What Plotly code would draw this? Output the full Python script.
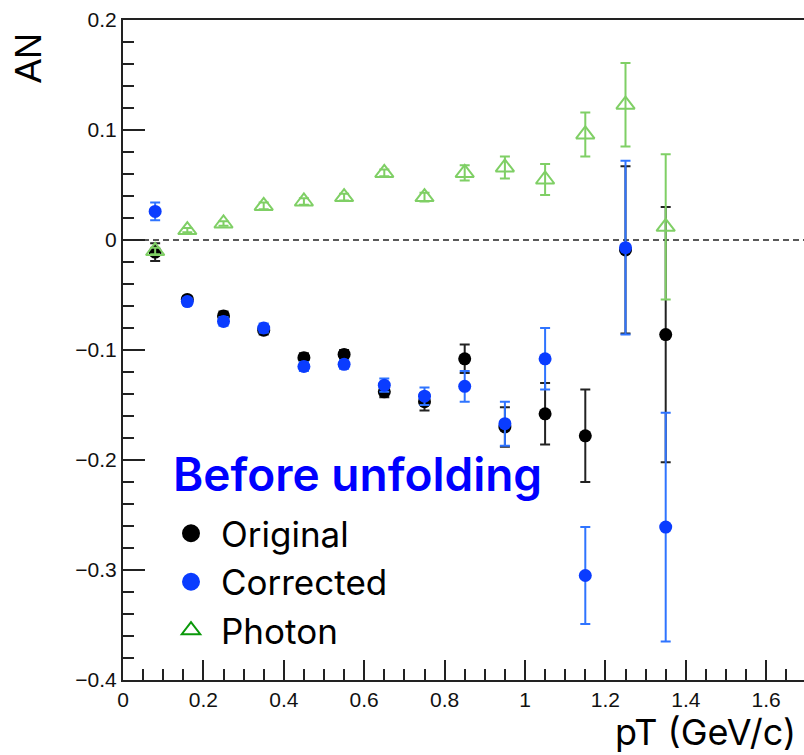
import plotly.graph_objects as go

# ---------------- data ----------------
pt = [0.08, 0.16, 0.25, 0.35, 0.45, 0.55, 0.65, 0.75, 0.85, 0.95, 1.05, 1.15, 1.25, 1.35]

orig_an = [-0.011, -0.054, -0.069, -0.082, -0.107, -0.104, -0.138, -0.147, -0.108, -0.170, -0.158, -0.178, -0.009, -0.086]
orig_err = [0.008, 0.003, 0.004, 0.004, 0.004, 0.004, 0.005, 0.008, 0.013, 0.018, 0.028, 0.042, 0.076, 0.116]

corr_an = [0.026, -0.056, -0.074, -0.080, -0.115, -0.113, -0.132, -0.142, -0.133, -0.167, -0.108, -0.305, -0.007, -0.261]
corr_err = [0.008, 0.003, 0.004, 0.004, 0.004, 0.004, 0.006, 0.008, 0.014, 0.020, 0.028, 0.044, 0.079, 0.104]

phot_an = [-0.010, 0.009, 0.015, 0.031, 0.035, 0.039, 0.061, 0.039, 0.061, 0.066, 0.055, 0.096, 0.123, 0.012]
phot_err = [0.003, 0.002, 0.002, 0.003, 0.003, 0.003, 0.003, 0.004, 0.007, 0.010, 0.014, 0.020, 0.038, 0.066]

legend_title = "Before unfolding"
names = ["Original", "Corrected", "Photon"]

# ---------------- figure ----------------
fig = go.Figure()

BLACK = "#000000"
BLUE = "#0a3cff"
BLUE_ERR = "#2f74ff"
GREEN = "#7fcf65"
GREEN_LEG = "#0a990a"
LFONT = "Inter, Noto Sans CJK KR, sans-serif"

fig.add_trace(go.Scatter(
    x=pt, y=orig_an, mode="markers", showlegend=False,
    marker=dict(symbol="circle", size=13, color=BLACK),
    error_y=dict(type="data", array=orig_err, color="#222222", thickness=2, width=5),
))
fig.add_trace(go.Scatter(
    x=pt, y=corr_an, mode="markers", showlegend=False,
    marker=dict(symbol="circle", size=13, color=BLUE),
    error_y=dict(type="data", array=corr_err, color=BLUE_ERR, thickness=2, width=5),
))
fig.add_trace(go.Scatter(
    x=pt, y=phot_an, mode="markers", showlegend=False,
    marker=dict(symbol="triangle-up-open", size=16, color=GREEN, line=dict(width=2, color=GREEN)),
    error_y=dict(type="data", array=phot_err, color=GREEN, thickness=2, width=5),
))

# legend-only entries (styled like the reference legend)
fig.add_trace(go.Scatter(x=[None], y=[None], mode="markers", name=names[0],
                         marker=dict(symbol="circle", size=20, color=BLACK,
                                     line=dict(width=2, color=BLACK))))
fig.add_trace(go.Scatter(x=[None], y=[None], mode="markers", name=names[1],
                         marker=dict(symbol="circle", size=20, color=BLUE,
                                     line=dict(width=2, color=BLUE))))
fig.add_trace(go.Scatter(x=[None], y=[None], mode="markers", name=names[2],
                         marker=dict(symbol="triangle-up-open", size=20, color=GREEN_LEG,
                                     line=dict(width=2, color=GREEN_LEG))))

# dashed zero line
fig.add_shape(type="line", xref="x", yref="y", x0=0, x1=1.8, y0=0, y1=0,
              line=dict(color="#222222", width=1.6, dash="6px,4px"), layer="below")

L, R, T, B = 123, 0, 20, 75
W, H = 804, 755
pw = W - L - R
ph = H - T - B

fig.update_layout(
    width=W, height=H,
    margin=dict(l=L, r=R, t=T, b=B, pad=0),
    plot_bgcolor="white", paper_bgcolor="white",
    font=dict(family="Liberation Sans, Arial, sans-serif", size=21, color="#111111"),
    xaxis=dict(
        range=[0, pw / 402.0], showgrid=False, zeroline=False,
        showline=True, linecolor="#222222", linewidth=2, mirror=True,
        ticks="inside", ticklen=20, tickwidth=1.5, tickcolor="#222222",
        tick0=0, dtick=0.2,
        minor=dict(dtick=0.05, ticklen=11, ticks="inside", tickcolor="#222222", tickwidth=1.5),
        tickfont=dict(size=21, family="Liberation Sans, Arial, sans-serif"),
    ),
    yaxis=dict(
        range=[-0.4, 0.2], showgrid=False, zeroline=False,
        showline=True, linecolor="#222222", linewidth=2, mirror=False,
        ticks="inside", ticklen=22, tickwidth=1.5, tickcolor="#222222",
        tick0=0, dtick=0.1,
        minor=dict(dtick=0.02, ticklen=11, ticks="inside", tickcolor="#222222", tickwidth=1.5),
        tickfont=dict(size=21, family="Liberation Sans, Arial, sans-serif"),
    ),
    showlegend=True,
    legend=dict(
        x=(161 - L) / pw, y=(680 - 504) / ph, xanchor="left", yanchor="top",
        bgcolor="rgba(0,0,0,0)", borderwidth=0, itemwidth=50,
        font=dict(family=LFONT, size=35, color="#000000"),
        itemsizing="trace",
    ),
)

fig.add_annotation(xref="paper", yref="paper", x=(171 - L) / pw, y=(680 - 474) / ph,
                   xanchor="left", yanchor="middle", showarrow=False,
                   text=legend_title,
                   font=dict(family=LFONT, size=46, color="#0000ff", weight=600))
fig.add_annotation(xref="paper", yref="paper", x=(798 - L) / pw, y=(680 - 756) / ph,
                   xanchor="right", yanchor="bottom", showarrow=False,
                   text="pT (GeV/c)",
                   font=dict(family=LFONT, size=36, color="#000000"))
fig.add_annotation(xref="paper", yref="paper", x=(28 - L) / pw, y=(680 - 58) / ph,
                   xanchor="center", yanchor="middle", showarrow=False, textangle=-90,
                   text="AN",
                   font=dict(family="Liberation Sans, Arial, sans-serif", size=36, color="#000000"))

fig.write_html("out.html")
